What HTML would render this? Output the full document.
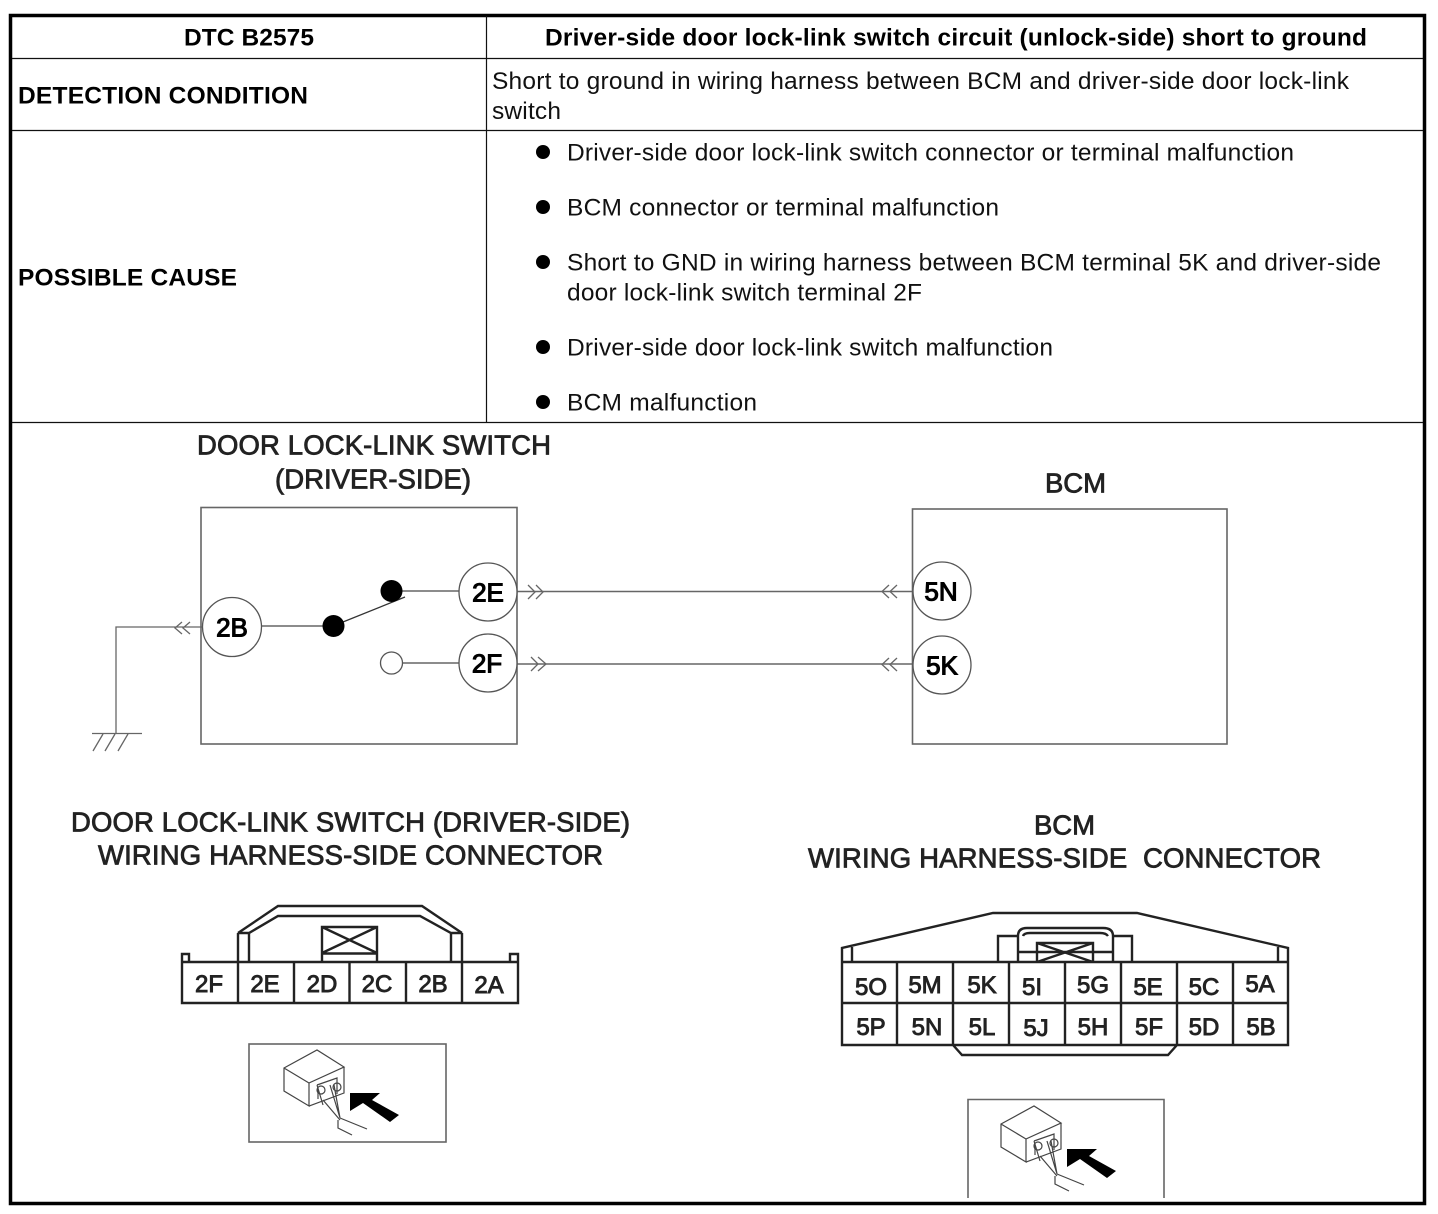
<!DOCTYPE html>
<html><head><meta charset="utf-8"><style>
html,body{margin:0;padding:0;background:#fff}
svg{display:block}
text{font-family:"Liberation Sans",Arial,sans-serif;fill:#000}
.h{font-size:24.500px;font-weight:700}
.t{font-size:24.500px;fill:#111}
.d{font-size:27.500px;fill:#222;stroke:#222;stroke-width:.8}
.c{font-size:24px;fill:#222;stroke:#222;stroke-width:.9;text-anchor:middle}
.o{font-size:26px;fill:#000;stroke:#000;stroke-width:1.1;text-anchor:middle}
.g{fill:none;stroke:#666;stroke-width:1.6}
.k{fill:none;stroke:#222;stroke-width:2.4}
.n{fill:none;stroke:#444;stroke-width:1.2}
</style></head><body>
<svg width="1438" height="1214" viewBox="0 0 1438 1214" xmlns="http://www.w3.org/2000/svg">
<rect width="1438" height="1214" fill="#fff"/>
<!-- table -->
<rect x="10.500" y="15.500" width="1414" height="1188" fill="none" stroke="#000" stroke-width="3.500"/>
<path d="M12 58.500H1423M12 130.500H1423M12 422.500H1423M486.500 16V422" fill="none" stroke="#111" stroke-width="1.200"/>
<text class="h" x="184" y="45.500" textLength="130">DTC B2575</text>
<text class="h" x="545" y="45.500" textLength="822">Driver-side door lock-link switch circuit (unlock-side) short to ground</text>
<text class="h" x="18" y="103.500" textLength="290">DETECTION CONDITION</text>
<text class="h" x="18" y="285.500" textLength="219">POSSIBLE CAUSE</text>
<text class="t" x="492" y="89" textLength="857">Short to ground in wiring harness between BCM and driver-side door lock-link</text>
<text class="t" x="492" y="119" textLength="69">switch</text>
<circle cx="543" cy="152" r="7"/><circle cx="543" cy="207" r="7"/><circle cx="543" cy="262" r="7"/><circle cx="543" cy="347" r="7"/><circle cx="543" cy="402" r="7"/>
<text class="t" x="567" y="160.500" textLength="727">Driver-side door lock-link switch connector or terminal malfunction</text>
<text class="t" x="567" y="215.500" textLength="432">BCM connector or terminal malfunction</text>
<text class="t" x="567" y="270.500" textLength="814">Short to GND in wiring harness between BCM terminal 5K and driver-side</text>
<text class="t" x="567" y="300.500" textLength="355">door lock-link switch terminal 2F</text>
<text class="t" x="567" y="355.500" textLength="486">Driver-side door lock-link switch malfunction</text>
<text class="t" x="567" y="410.500" textLength="190">BCM malfunction</text>
<!-- schematic titles -->
<text class="d" x="197" y="454.500" textLength="354">DOOR LOCK-LINK SWITCH</text>
<text class="d" x="275" y="488.500" textLength="196">(DRIVER-SIDE)</text>
<text class="d" x="1045" y="492.500" textLength="61">BCM</text>
<text class="d" x="71" y="831.500" textLength="559">DOOR LOCK-LINK SWITCH (DRIVER-SIDE)</text>
<text class="d" x="98" y="864.500" textLength="505">WIRING HARNESS-SIDE CONNECTOR</text>
<text class="d" x="1034" y="834.500" textLength="61">BCM</text>
<text class="d" x="808" y="867.500" textLength="513" xml:space="preserve">WIRING HARNESS-SIDE  CONNECTOR</text>
<!-- schematic -->
<rect class="g" x="201" y="507.500" width="316" height="236.500"/>
<rect class="g" x="912.500" y="509" width="314.500" height="235"/>
<path class="g" d="M517 591.500H912M517 664H912M261 626H333M391 591H459M391 663H459"/>
<path d="M333 626L405 597" fill="none" stroke="#333" stroke-width="1.300"/>
<path class="g" style="stroke-width:1.300" d="M202 627H116V733M92 733.500H142M93 751L103 734M105 751L115 734M118 751L128 734M182 622L175 628L182 634M190 622L183 628L190 634"/>
<path class="g" style="stroke-width:1.300" d="M528 585L535 592L528 599M536 585L543 592L536 599M531 657L538 664L531 671M538 657L546 664L538 671M897 585L890 591.500L897 598M889 585L882 591.500L889 598M897 658L890 664.500L897 671M889 658L882 664.500L889 671"/>
<g fill="#fff" stroke="#555" stroke-width="1.300">
<circle cx="232" cy="627" r="29.500"/><circle cx="488" cy="592" r="29"/><circle cx="488" cy="663" r="29"/><circle cx="942" cy="591" r="29"/><circle cx="942" cy="665" r="29"/><circle cx="391.500" cy="663" r="11"/>
</g>
<circle cx="333.500" cy="626" r="11"/><circle cx="391.500" cy="591" r="11"/>
<text class="o" x="232" y="636.500">2B</text><text class="o" x="488" y="601.500">2E</text><text class="o" x="487" y="672.500">2F</text><text class="o" x="941" y="600.500">5N</text><text class="o" x="942" y="674.500">5K</text>
<!-- connector 1 -->
<path class="k" d="M182 962H518V1003H182ZM238 962V933M238 1003V962M294 962V1003M349.500 962V1003M406 962V1003M462 933V1003M238 933L278 906H422L462 933M238 933H249L278 916H420L451 933H462M249 933V962M451 933V962M322 962V927H377V962M322 953.500H377M322 927L377 953M377 927L322 953M182 962V954H189V962M518 962V954H510V962"/>
<text class="c" x="209" y="992">2F</text><text class="c" x="265" y="992">2E</text><text class="c" x="322" y="992">2D</text><text class="c" x="377" y="992">2C</text><text class="c" x="433" y="992">2B</text><text class="c" x="489" y="993">2A</text>
<rect class="g" x="249" y="1044" width="197" height="98"/>
<g>
<path class="n" d="M284 1068L317 1050L344 1067L309 1083V1106L284 1091ZM284 1068L309 1083M344 1067V1093L309 1106M317 1085L337 1078V1094M318 1088V1099M317 1085L323 1105M334 1085L340 1118M323 1100L340 1120M340 1118L367 1129M338 1120L338 1128L352 1135M330 1085L340 1118"/>
<circle class="n" cx="321" cy="1090" r="4"/><circle class="n" cx="337" cy="1087" r="4"/>
<path d="M350 1093H380L372 1100L399 1115L390 1122L363 1103L350 1111Z"/>
</g>
<!-- connector 2 -->
<path class="k" d="M842 962H1288V1045H842ZM842 1003H1288M897 962V1045M953 962V1045M1009 962V1045M1065 962V1045M1121 962V1045M1177 962V1045M1233 962V1045M842 962V948L993 913H1137L1288 948V962M852 947V962M1278 947V962M953 1045L962 1055H1168L1177 1045M998 962V936H1018M1132 962V936H1113M1018 962V936Q1018 928 1027 928H1103Q1113 928 1113 936V962M1023 936Q1024 933 1030 933H1100Q1106 933 1108 936M1019 952H1112M1037 962V943H1093V962M1037 943L1093 962M1093 943L1037 962"/>
<text class="c" x="871" y="995">5O</text><text class="c" x="925" y="993">5M</text><text class="c" x="982" y="993">5K</text><text class="c" x="1032" y="995">5I</text><text class="c" x="1093" y="993">5G</text><text class="c" x="1148" y="995">5E</text><text class="c" x="1204" y="995">5C</text><text class="c" x="1260" y="992">5A</text>
<text class="c" x="871" y="1035">5P</text><text class="c" x="927" y="1035">5N</text><text class="c" x="982" y="1035">5L</text><text class="c" x="1036" y="1036">5J</text><text class="c" x="1093" y="1035">5H</text><text class="c" x="1149" y="1035">5F</text><text class="c" x="1204" y="1035">5D</text><text class="c" x="1261" y="1035">5B</text>
<path class="g" d="M968 1198V1099.500H1164V1198"/>
<g transform="translate(717,56)">
<path class="n" d="M284 1068L317 1050L344 1067L309 1083V1106L284 1091ZM284 1068L309 1083M344 1067V1093L309 1106M317 1085L337 1078V1094M318 1088V1099M317 1085L323 1105M334 1085L340 1118M323 1100L340 1120M340 1118L367 1129M338 1120L338 1128L352 1135M330 1085L340 1118"/>
<circle class="n" cx="321" cy="1090" r="4"/><circle class="n" cx="337" cy="1087" r="4"/>
<path d="M350 1093H380L372 1100L399 1115L390 1122L363 1103L350 1111Z"/>
</g>
</svg>
</body></html>
